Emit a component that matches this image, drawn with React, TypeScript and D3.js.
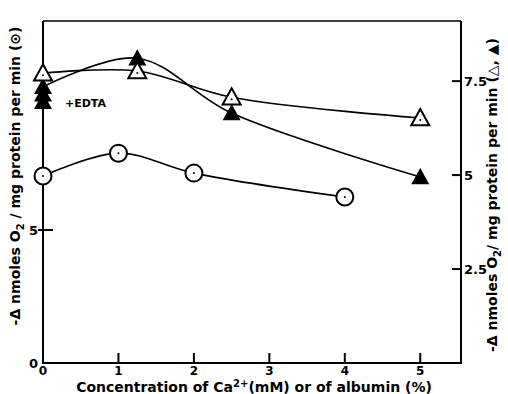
import React from "react";
import * as d3 from "d3";

// values
const xTicks = [0, 1, 2, 3, 4, 5];
const leftTicks = [0, 5];
const rightTicks = [2.5, 5, 7.5];

const circleX = [0, 1, 2, 4];
const circleY = [7.03, 7.89, 7.14, 6.24];

const openX = [0, 1.25, 2.5, 5];
const openY = [7.71, 7.77, 7.07, 6.52];

const filledX = [0, 1.25, 2.5, 5];
const filledY = [7.35, 8.11, 6.65, 4.95];

// extra +EDTA points stacked at zero
const edtaX = [0, 0];
const edtaY = [7.15, 6.95];

const W = 508;
const H = 394;
const m = { top: 21, right: 47, bottom: 31, left: 43 };

const font = "'DejaVu Sans', sans-serif";

const App = () => {
  const x = d3.scaleLinear().domain([0, 5.54]).range([m.left, W - m.right]);
  const yL = d3.scaleLinear().domain([0, 12.86]).range([H - m.bottom, m.top]);
  const yR = d3.scaleLinear().domain([0, 9.1]).range([H - m.bottom, m.top]);

  const line = d3.line<[number, number]>().curve(d3.curveCatmullRom.alpha(0.5));

  const circlePts = circleX.map((v, i) => [x(v), yL(circleY[i])] as [number, number]);
  const openPts = openX.map((v, i) => [x(v), yR(openY[i])] as [number, number]);
  const filledPts = filledX.map((v, i) => [x(v), yR(filledY[i])] as [number, number]);
  const edtaPts = edtaX.map((v, i) => [x(v), yR(edtaY[i])] as [number, number]);

  const tri = (cx: number, cy: number, s = 9) =>
    `M${cx},${cy - s}L${cx + s},${cy + s * 0.8}L${cx - s},${cy + s * 0.8}Z`;

  const x0 = m.left;
  const x1 = W - m.right;
  const y0 = H - m.bottom;
  const y1 = m.top;

  return (
    <svg width={W} height={H} style={{ position: "absolute", left: 0, top: 0, background: "#fff" }}>
      <g fill="none" stroke="#000">
        <path d={`M${x0},${y1}L${x1},${y1}`} strokeWidth={1.3} />
        <path d={`M${x0},${y1}L${x0},${y0}L${x1},${y0}L${x1},${y1}`} strokeWidth={2} />
      </g>

      {/* bottom ticks */}
      {xTicks.map((t) => (
        <g key={"x" + t}>
          {t > 0 && <line x1={x(t)} x2={x(t)} y1={y0} y2={y0 - 10} stroke="#000" strokeWidth={2} />}
          <text x={x(t)} y={y0 + 12} textAnchor="middle" fontFamily={font} fontSize={12} fontWeight="bold">
            {t}
          </text>
        </g>
      ))}

      {/* left ticks */}
      {leftTicks.map((t) => (
        <g key={"l" + t}>
          {t > 0 && <line x1={x0 - 5} x2={x0 + 10} y1={yL(t)} y2={yL(t)} stroke="#000" strokeWidth={2} />}
          <text x={x0 - 5} y={yL(t) + 5} textAnchor="end" fontFamily={font} fontSize={13} fontWeight="bold">
            {t}
          </text>
        </g>
      ))}

      {/* right ticks */}
      {rightTicks.map((t) => (
        <g key={"r" + t}>
          <line x1={x1 - 9} x2={x1} y1={yR(t)} y2={yR(t)} stroke="#000" strokeWidth={2} />
          <text x={x1 + 3} y={yR(t) + 5} textAnchor="start" fontFamily={font} fontSize={13} fontWeight="bold">
            {t}
          </text>
        </g>
      ))}

      {/* curves */}
      <g fill="none" stroke="#000" strokeWidth={1.6}>
        <path d={line(circlePts) || ""} />
        <path d={line(openPts) || ""} />
        <path d={line(filledPts) || ""} />
      </g>

      {/* markers */}
      {edtaPts.map(([cx, cy], i) => (
        <path key={"e" + i} d={tri(cx, cy)} fill="#000" />
      ))}
      {filledPts.map(([cx, cy], i) => (
        <path key={"f" + i} d={tri(cx, cy)} fill="#000" />
      ))}
      {openPts.map(([cx, cy], i) => (
        <g key={"o" + i}>
          <path d={tri(cx, cy)} fill="#fff" stroke="#000" strokeWidth={2} />
          <circle cx={cx} cy={cy + 2} r={1} fill="#000" />
        </g>
      ))}
      {circlePts.map(([cx, cy], i) => (
        <g key={"c" + i}>
          <circle cx={cx} cy={cy} r={8.5} fill="#fff" stroke="#000" strokeWidth={2} />
          <circle cx={cx} cy={cy} r={1} fill="#000" />
        </g>
      ))}

      <text x={x0 + 22} y={yR(6.85) + 1} fontFamily={font} fontSize={11} fontWeight="bold">
        +EDTA
      </text>

      {/* x title */}
      <text x={(x0 + x1) / 2 + 2} y={H - 2} textAnchor="middle" fontFamily={font} fontSize={14} fontWeight="bold">
        Concentration of Ca
        <tspan fontSize={10} dy={-5}>2+</tspan>
        <tspan dy={5}>(mM) or of albumin (%)</tspan>
      </text>

      {/* left title */}
      <text
        transform={`translate(20,176) rotate(-90)`}
        textAnchor="middle"
        fontFamily={font}
        fontSize={14}
        fontWeight="bold"
      >
        -Δ nmoles O
        <tspan fontSize={10} dy={4}>2</tspan>
        <tspan dy={-4}> / mg protein per min (⊙)</tspan>
      </text>

      {/* right title */}
      <text
        transform={`translate(497,195) rotate(-90)`}
        textAnchor="middle"
        fontFamily={font}
        fontSize={14}
        fontWeight="bold"
      >
        -Δ nmoles O
        <tspan fontSize={10} dy={4}>2</tspan>
        <tspan dy={-4}>/ mg protein per min (△, ▲)</tspan>
      </text>
    </svg>
  );
};

export default App;
